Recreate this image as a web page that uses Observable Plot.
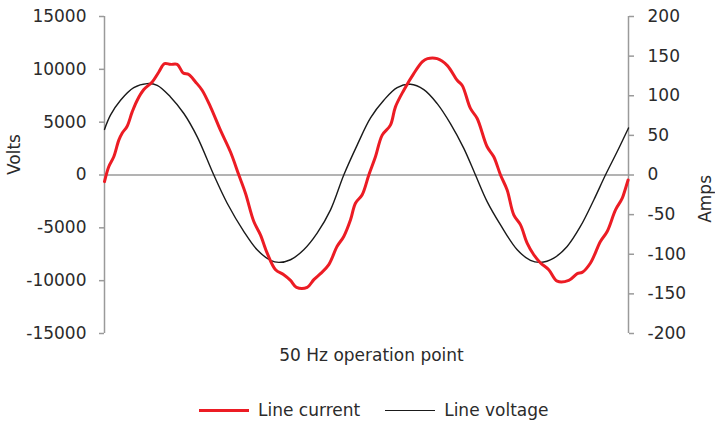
<!DOCTYPE html>
<html>
<head>
<meta charset="utf-8">
<script src="https://cdn.jsdelivr.net/npm/d3@7"></script>
<script src="https://cdn.jsdelivr.net/npm/@observablehq/plot@0.6"></script>
<style>
  html, body { margin: 0; padding: 0; background: #fff; }
  #wrap { width: 715px; height: 421px; position: relative; overflow: hidden; font-family: "DejaVu Sans", sans-serif; }
  #legend { position: absolute; left: 199px; top: 398px; height: 24px; display: flex; align-items: center; font-size: 17px; color: #2b2b2b; }
  .sw { display: inline-block; width: 50px; margin-right: 9px; }
  .item { display: flex; align-items: center; margin-right: 25px; }
</style>
</head>
<body>
<div id="wrap"><div id="chart"></div><div id="legend"></div></div>
<script>
// Voltage series (time in ms, volts)
const voltTime = [0,0.45,1.21,2.21,3.22,3.98,4.98,5.99,7.0,8.25,9.26,10.52,11.52,12.53,13.16,14.04,15.04,16.05,17.06,18.06,19.07,20.08,21.08,22.09,23.09,24.10,25.11,26.11,27.12,28.0,28.88,29.89,31.15,32.15,32.91,33.91,34.92,35.92,36.93,37.81,38.69,39.55];
const voltage = [4310,5660,7075,8270,8650,8490,7390,5820,3610,0,-2670,-5350,-7075,-8080,-8270,-8020,-7075,-5500,-3300,0,2830,5400,7075,8270,8585,8080,6760,4870,2520,0,-2520,-4720,-7075,-8080,-8270,-7860,-6760,-4870,-2360,0,2200,4450];

// Current series (time in ms, amps)
const currentTime = [0,0.32,0.70,1.08,1.34,1.71,2.09,2.47,2.97,3.60,4.10,4.53,4.98,5.49,5.94,6.36,6.87,7.37,8.0,8.75,9.51,10.14,10.64,11.27,11.77,12.28,12.91,13.53,14.04,14.49,15.30,15.80,16.30,16.93,17.56,18.06,18.57,18.94,19.45,19.95,20.45,20.96,21.58,21.96,22.59,23.34,24.0,24.38,25.11,25.86,26.62,27.0,27.62,28.13,28.88,29.38,29.89,30.39,30.89,31.40,31.90,32.40,32.91,33.53,34.17,35.04,35.68,36.05,36.68,37.43,37.94,38.57,39.08,39.52];
const current = [-8.4,10.5,23,44,53,61.6,79.6,94.4,107.8,117.4,130,140.5,139.6,139.6,128.7,126.7,117.4,107,86,56.6,29,0,-23,-58.7,-75.5,-98.6,-119.5,-125.8,-133,-141.7,-141.7,-132,-124.5,-113,-90,-77.6,-56.6,-35.6,-25,0,23,50.3,62.9,86,107,128,143,146.8,146.8,138.4,119.5,113,84,71.3,35.6,23,0,-18.9,-50.3,-62.9,-86,-100.6,-111,-119.5,-134,-133,-124.5,-122.9,-111,-83.9,-71.3,-44,-29.3,-6.3];

// Axis ticks
const voltTicks = [-15000,-10000,-5000,0,5000,10000,15000];
const ampTicks = [-200,-150,-100,-50,0,50,100,150,200];

const seriesNames = ["Line current", "Line voltage"];
const seriesColors = ["#ec1c24", "#1a1a1a"];
const xLabel = "50 Hz operation point";
const yLeftLabel = "Volts";
const yRightLabel = "Amps";

const ampToVolt = 15000 / 200;
const voltData = voltTime.map((t, i) => ({t, v: voltage[i]}));
const curData = currentTime.map((t, i) => ({t, a: current[i]}));
const tExtent = [Math.min(d3.min(voltTime), d3.min(currentTime)), Math.max(d3.max(voltTime), d3.max(currentTime))];

const textColor = "#2b2b2b";
const axisColor = "#9a9a9a";

const chart = Plot.plot({
  width: 715,
  height: 390,
  marginTop: 16,
  marginBottom: 57,
  marginLeft: 104,
  marginRight: 87,
  style: {fontFamily: "DejaVu Sans, sans-serif", fontSize: "17px", color: textColor, background: "transparent"},
  x: {domain: tExtent, axis: null},
  y: {domain: [voltTicks[0], voltTicks[voltTicks.length - 1]]},
  marks: [
    Plot.ruleY([0], {stroke: axisColor, strokeWidth: 1.5}),
    Plot.ruleX(tExtent, {stroke: axisColor, strokeWidth: 1.5}),
    Plot.axisY(voltTicks, {anchor: "left", tickSize: 5, tickPadding: 13, strokeWidth: 1.5, stroke: axisColor, fill: textColor, fontSize: 17, tickFormat: d => String(d), label: null}),
    Plot.axisY(ampTicks.map(a => a * ampToVolt), {anchor: "right", tickSize: 5, tickPadding: 14, strokeWidth: 1.5, stroke: axisColor, fill: textColor, fontSize: 17, tickFormat: d => String(Math.round(d / ampToVolt)), label: null}),
    Plot.line(voltData, {x: "t", y: "v", stroke: seriesColors[1], strokeWidth: 1.4, curve: "catmull-rom"}),
    Plot.line(curData, {x: "t", y: d => d.a * ampToVolt, stroke: seriesColors[0], strokeWidth: 3, curve: "catmull-rom"}),
    Plot.text([xLabel], {frameAnchor: "bottom", dy: 27, dx: 5, fontSize: 17, fill: textColor}),
    Plot.text([yLeftLabel], {frameAnchor: "left", dx: -90, rotate: -90, fontSize: 17, fill: textColor}),
    Plot.text([yRightLabel], {frameAnchor: "right", dx: 77, rotate: -90, fontSize: 17, fill: textColor})
  ]
});
document.getElementById("chart").appendChild(chart);

const legend = document.getElementById("legend");
seriesNames.forEach((name, i) => {
  const item = document.createElement("div");
  item.className = "item";
  const sw = document.createElement("span");
  sw.className = "sw";
  sw.style.borderTop = (i === 0 ? 3 : 1.5) + "px solid " + seriesColors[i];
  const label = document.createElement("span");
  label.textContent = name;
  item.appendChild(sw);
  item.appendChild(label);
  legend.appendChild(item);
});
</script>
</body>
</html>
